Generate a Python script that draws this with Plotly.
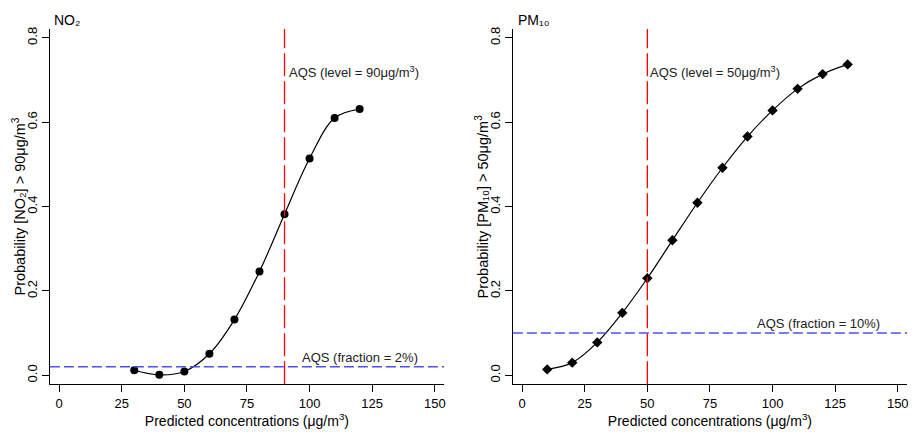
import plotly.graph_objects as go

# ---- data ----
no2_x = [30, 40, 50, 60, 70, 80, 90, 100, 110, 120]
no2_y = [0.012, 0.001, 0.009, 0.051, 0.132, 0.246, 0.382, 0.514, 0.610, 0.631]
pm_x = [10, 20, 30, 40, 50, 60, 70, 80, 90, 100, 110, 120, 130]
pm_y = [0.014, 0.030, 0.078, 0.148, 0.230, 0.320, 0.409, 0.492, 0.566, 0.628, 0.679, 0.714, 0.737]

no2_level = 90
no2_fraction = 0.02
pm_level = 50
pm_fraction = 0.10

x_ticks = [0, 25, 50, 75, 100, 125, 150]
y_ticks = [0.0, 0.2, 0.4, 0.6, 0.8]

FONT = "Liberation Sans, Arial, sans-serif"
RED = "#FF0000"
BLUE = "#4F4FF0"

fig = go.Figure()

fig.add_trace(go.Scatter(x=no2_x, y=no2_y, mode="lines+markers",
                         line=dict(color="black", width=1.2, shape="spline", smoothing=1.0),
                         marker=dict(symbol="circle", size=8, color="black"),
                         xaxis="x", yaxis="y", showlegend=False))
fig.add_trace(go.Scatter(x=pm_x, y=pm_y, mode="lines+markers",
                         line=dict(color="black", width=1.2, shape="spline", smoothing=1.0),
                         marker=dict(symbol="diamond", size=8, color="black"),
                         xaxis="x2", yaxis="y2", showlegend=False))

xr = [-3.7, 153.7]
yr = [-0.0212, 0.8212]

axis_common = dict(showline=True, linecolor="black", linewidth=1, showgrid=False, zeroline=False,
                   ticks="outside", ticklen=7, tickcolor="black", tickwidth=1,
                   tickfont=dict(family=FONT, size=13, color="black"))

y_dom = [1 - 384/434, 1 - 27/434]
fig.update_layout(
    width=915, height=434,
    margin=dict(l=0, r=0, t=0, b=0),
    paper_bgcolor="white", plot_bgcolor="white",
    font=dict(family=FONT, size=13, color="black"),
    xaxis=dict(domain=[50/915, 445/915], range=xr, tickvals=x_ticks, anchor="y",
               title=dict(text="Predicted concentrations (μg/m<sup>3</sup>)", standoff=5,
                          font=dict(family=FONT, size=14)), **axis_common),
    yaxis=dict(domain=y_dom, range=yr, tickvals=y_ticks, tickformat=".1f",
               tickangle=-90, anchor="x", **axis_common),
    xaxis2=dict(domain=[514/915, 909/915], range=xr, tickvals=x_ticks, anchor="y2",
                title=dict(text="Predicted concentrations (μg/m<sup>3</sup>)", standoff=5,
                           font=dict(family=FONT, size=14)), **axis_common),
    yaxis2=dict(domain=y_dom, range=yr, tickvals=y_ticks, tickformat=".1f",
                tickangle=-90, anchor="x2", **axis_common),
)

# y-axis titles (rotated)
ymid = (y_dom[0] + y_dom[1]) / 2
fig.add_annotation(x=19/915, y=ymid, xref="paper", yref="paper",
                   text="Probability [NO₂] > 90μg/m<sup>3</sup>", textangle=-90,
                   showarrow=False, xanchor="center", yanchor="middle",
                   font=dict(family=FONT, size=14.5, color="black"))
fig.add_annotation(x=483/915, y=ymid, xref="paper", yref="paper",
                   text="Probability [PM₁₀] > 50μg/m<sup>3</sup>", textangle=-90,
                   showarrow=False, xanchor="center", yanchor="middle",
                   font=dict(family=FONT, size=14.5, color="black"))

# reference lines
fig.add_shape(type="line", xref="x", yref="paper", x0=no2_level, x1=no2_level,
              y0=y_dom[0], y1=y_dom[1], line=dict(color=RED, width=1.3, dash="23px,5px"))
fig.add_shape(type="line", xref="paper", yref="y", x0=50/915, x1=445/915,
              y0=no2_fraction, y1=no2_fraction, line=dict(color=BLUE, width=1.5, dash="10px,4px"))
fig.add_shape(type="line", xref="x2", yref="paper", x0=pm_level, x1=pm_level,
              y0=y_dom[0], y1=y_dom[1], line=dict(color=RED, width=1.3, dash="23px,5px"))
fig.add_shape(type="line", xref="paper", yref="y2", x0=514/915, x1=909/915,
              y0=pm_fraction, y1=pm_fraction, line=dict(color=BLUE, width=1.5, dash="10px,4px"))

ann_font = dict(family=FONT, size=13, color="#222222")
fig.add_annotation(x=no2_level, y=0.72, xref="x", yref="y", text="AQS (level = 90μg/m<sup>3</sup>)",
                   showarrow=False, xanchor="left", yanchor="middle", xshift=2, font=ann_font)
fig.add_annotation(x=120, y=0.043, xref="x", yref="y", text="AQS (fraction = 2%)",
                   showarrow=False, xanchor="center", yanchor="middle", font=ann_font)
fig.add_annotation(x=pm_level, y=0.72, xref="x2", yref="y2", text="AQS (level = 50μg/m<sup>3</sup>)",
                   showarrow=False, xanchor="left", yanchor="middle", xshift=1, font=ann_font)
fig.add_annotation(x=118.3, y=0.123, xref="x2", yref="y2", text="AQS (fraction = 10%)",
                   showarrow=False, xanchor="center", yanchor="middle", font=ann_font)

fig.add_annotation(x=52/915, y=1-18/434, xref="paper", yref="paper", text="NO₂",
                   showarrow=False, xanchor="left", yanchor="middle",
                   font=dict(family=FONT, size=14, color="black"))
fig.add_annotation(x=517/915, y=1-18/434, xref="paper", yref="paper", text="PM₁₀",
                   showarrow=False, xanchor="left", yanchor="middle",
                   font=dict(family=FONT, size=14, color="black"))

fig.write_html("out.html")
